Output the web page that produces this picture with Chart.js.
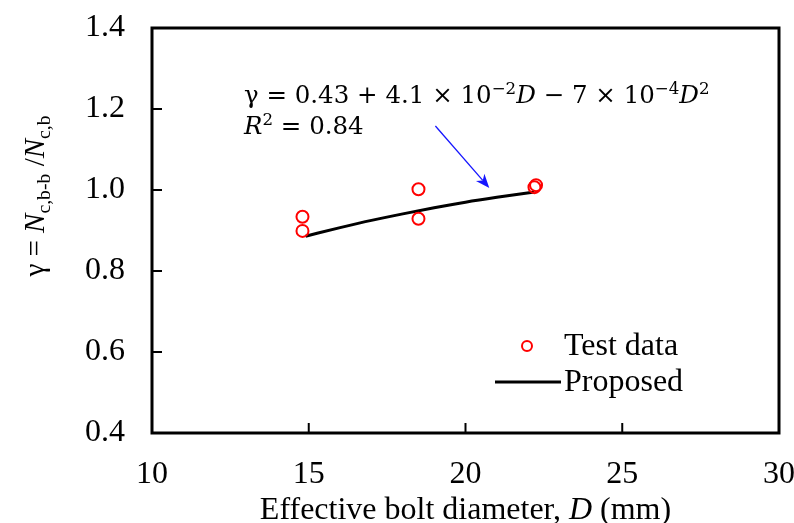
<!DOCTYPE html>
<html>
<head>
<meta charset="utf-8">
<script src="https://cdn.jsdelivr.net/npm/chart.js@4.4.1/dist/chart.umd.min.js"></script>
<style>
  html, body { margin: 0; padding: 0; background: #fff; }
  #wrap { width: 794px; height: 523px; }
</style>
</head>
<body>
<div id="wrap"><canvas id="myChart" width="794" height="523"></canvas></div>
<script>
// values
const testD = [14.8, 14.8, 18.5, 18.5, 22.2, 22.25];
const testGamma = [0.934, 0.899, 1.002, 0.929, 1.007, 1.012];
const fitD = [14.9, 16, 17, 18, 19, 20, 21, 22.2];
const fitGamma = [0.886, 0.907, 0.925, 0.941, 0.956, 0.970, 0.982, 0.995];
const xTicks = [10, 15, 20, 25, 30];
const yTicks = [0.4, 0.6, 0.8, 1.0, 1.2, 1.4];

const SERIF = '"Liberation Serif", "Times New Roman", serif';
const MATH = '"DejaVu Serif", serif';
const FS = 32;

function toPoints(xs, ys) {
	return xs.map(function(x, i) { return { x: x, y: ys[i] }; });
}

// draws a list of text runs (italic / sup / sub) starting at x, baseline y
function runsWidth(ctx, runs, size, family) {
	var w = 0;
	runs.forEach(function(r) {
		var s = (r.sup || r.sub) ? size * 0.68 : size;
		ctx.font = (r.italic ? 'italic ' : '') + s + 'px ' + family;
		w += ctx.measureText(r.t).width;
	});
	return w;
}
function drawRuns(ctx, runs, x, y, size, family) {
	runs.forEach(function(r) {
		var s = (r.sup || r.sub) ? size * 0.68 : size;
		var dy = r.sup ? -size * 0.38 : (r.sub ? size * 0.22 : 0);
		ctx.font = (r.italic ? 'italic ' : '') + s + 'px ' + family;
		ctx.fillText(r.t, x, y + dy);
		x += ctx.measureText(r.t).width;
	});
}

const decorations = {
	id: 'decorations',
	afterDraw: function(chart) {
		var ctx = chart.ctx;
		var area = chart.chartArea;
		var xs = chart.scales.x, ys = chart.scales.y;
		ctx.save();

		// frame
		ctx.strokeStyle = '#000';
		ctx.lineWidth = 3;
		ctx.strokeRect(area.left, area.top, area.right - area.left, area.bottom - area.top);

		// inward tick marks
		ctx.lineWidth = 2;
		xTicks.slice(1, -1).forEach(function(v) {
			var px = xs.getPixelForValue(v);
			ctx.beginPath(); ctx.moveTo(px, area.bottom); ctx.lineTo(px, area.bottom - 10); ctx.stroke();
		});
		yTicks.slice(1, -1).forEach(function(v) {
			var py = ys.getPixelForValue(v);
			ctx.beginPath(); ctx.moveTo(area.left, py); ctx.lineTo(area.left + 10, py); ctx.stroke();
		});

		ctx.fillStyle = '#000';
		ctx.textBaseline = 'alphabetic';
		ctx.textAlign = 'left';

		// x axis title
		var xt = [{ t: 'Effective bolt diameter, ' }, { t: 'D', italic: true }, { t: ' (mm)' }];
		var w = runsWidth(ctx, xt, FS, SERIF);
		drawRuns(ctx, xt, (area.left + area.right) / 2 - w / 2, 519, FS, SERIF);

		// y axis title (rotated)
		var yt = [{ t: 'γ = ' }, { t: 'N', italic: true }, { t: 'c,b-b', sub: true }, { t: ' /' },
			{ t: 'N', italic: true }, { t: 'c,b', sub: true }];
		ctx.save();
		ctx.translate(44, 196);
		ctx.rotate(-Math.PI / 2);
		w = runsWidth(ctx, yt, 29, SERIF);
		drawRuns(ctx, yt, -w / 2, 0, 29, SERIF);
		ctx.restore();

		// fitted equation
		var eq1 = [{ t: 'γ = 0.43 + 4.1 × 10' }, { t: '−2', sup: true }, { t: 'D', italic: true },
			{ t: ' − 7 × 10' }, { t: '−4', sup: true }, { t: 'D', italic: true }, { t: '2', sup: true }];
		var eq2 = [{ t: 'R', italic: true }, { t: '2', sup: true }, { t: ' = 0.84' }];
		drawRuns(ctx, eq1, 244, 103, 24.5, MATH);
		drawRuns(ctx, eq2, 244, 134, 24.5, MATH);

		// blue arrow pointing at the curve
		var x0 = xs.getPixelForValue(19.04), y0 = ys.getPixelForValue(1.158);
		var x1 = xs.getPixelForValue(20.76), y1 = ys.getPixelForValue(1.005);
		var ang = Math.atan2(y1 - y0, x1 - x0);
		ctx.strokeStyle = '#1515ff';
		ctx.fillStyle = '#1515ff';
		ctx.lineWidth = 1.3;
		ctx.beginPath(); ctx.moveTo(x0, y0);
		ctx.lineTo(x1 - 10 * Math.cos(ang), y1 - 10 * Math.sin(ang)); ctx.stroke();
		ctx.beginPath();
		ctx.moveTo(x1, y1);
		ctx.lineTo(x1 - 15 * Math.cos(ang - 0.38), y1 - 15 * Math.sin(ang - 0.38));
		ctx.lineTo(x1 - 10 * Math.cos(ang), y1 - 10 * Math.sin(ang));
		ctx.lineTo(x1 - 15 * Math.cos(ang + 0.38), y1 - 15 * Math.sin(ang + 0.38));
		ctx.closePath(); ctx.fill();

		// legend
		var ds = chart.data.datasets;
		ctx.font = FS + 'px ' + SERIF;
		ctx.fillStyle = '#000';
		ctx.textBaseline = 'middle';
		ctx.strokeStyle = ds[0].borderColor;
		ctx.lineWidth = 2;
		ctx.beginPath(); ctx.arc(527, 346, 5, 0, Math.PI * 2); ctx.stroke();
		ctx.fillText(ds[0].label, 564, 347);
		ctx.strokeStyle = ds[1].borderColor;
		ctx.lineWidth = 3;
		ctx.beginPath(); ctx.moveTo(495, 382); ctx.lineTo(561, 382); ctx.stroke();
		ctx.fillText(ds[1].label, 564, 383);

		ctx.restore();
	}
};

var ctx = document.getElementById('myChart');
var myChart = new Chart(ctx, {
	type: 'scatter',
	data: {
		datasets: [{
			label: 'Test data',
			data: toPoints(testD, testGamma),
			showLine: false,
			pointStyle: 'circle',
			pointRadius: 6,
			pointBorderWidth: 2,
			borderColor: '#ff0000',
			backgroundColor: 'rgba(0,0,0,0)',
			order: 0
		}, {
			label: 'Proposed',
			data: toPoints(fitD, fitGamma),
			showLine: true,
			borderColor: '#000000',
			borderWidth: 3,
			pointRadius: 0,
			cubicInterpolationMode: 'monotone',
			order: 1
		}]
	},
	options: {
		responsive: false,
		animation: false,
		devicePixelRatio: 1,
		layout: { padding: { top: 28, right: 15, left: 0, bottom: 0 } },
		plugins: { legend: { display: false }, tooltip: { enabled: false } },
		scales: {
			x: {
				type: 'linear', min: 10, max: 30,
				afterFit: function(scale) { scale.height = 90; scale.paddingLeft = 0; scale.paddingRight = 0; },
				afterBuildTicks: function(scale) { scale.ticks = xTicks.map(function(v) { return { value: v }; }); },
				grid: { display: false, drawTicks: false },
				border: { display: false },
				ticks: { color: '#000', padding: 22, maxRotation: 0, font: { family: SERIF, size: FS } }
			},
			y: {
				type: 'linear', min: 0.4, max: 1.4,
				afterFit: function(scale) { scale.width = 152; scale.paddingTop = 0; scale.paddingBottom = 0; },
				afterBuildTicks: function(scale) { scale.ticks = yTicks.map(function(v) { return { value: v }; }); },
				grid: { display: false, drawTicks: false },
				border: { display: false },
				ticks: {
					color: '#000', padding: 27, font: { family: SERIF, size: FS },
					callback: function(v) { return Number(v).toFixed(1); }
				}
			}
		}
	},
	plugins: [decorations]
});
</script>
</body>
</html>
